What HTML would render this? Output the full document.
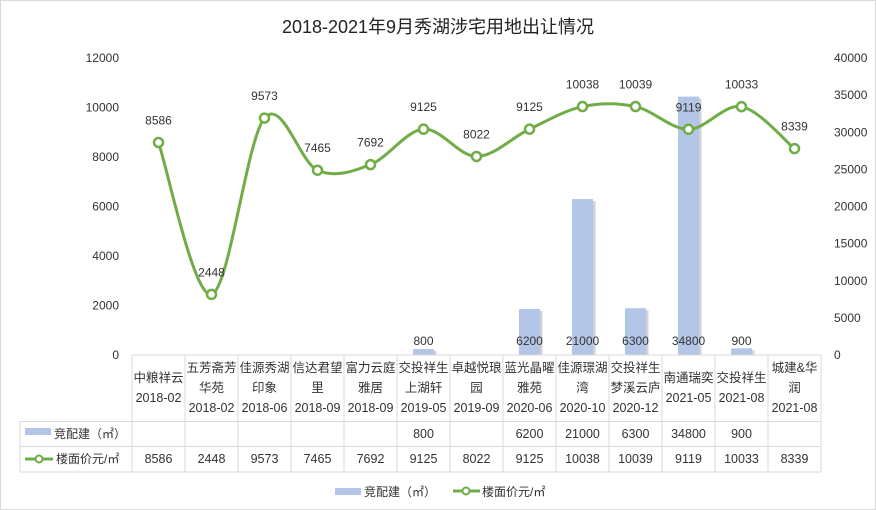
<!DOCTYPE html>
<html><head><meta charset="utf-8"><style>
body{margin:0;background:#fff}
svg{display:block;font-family:"Liberation Sans","Noto Sans CJK SC",sans-serif}
</style></head><body>
<svg id="s" width="876" height="510" viewBox="0 0 876 510" xmlns="http://www.w3.org/2000/svg">
<rect x="0.5" y="0.5" width="875" height="509" fill="#fff" stroke="#d9d9d9"/>
<text x="438" y="33" text-anchor="middle" font-size="18" fill="#222">2018-2021年9月秀湖涉宅用地出让情况</text>
</svg>
<script>
const s=document.getElementById('s');const NS='http://www.w3.org/2000/svg';
function el(t,a,txt){const e=document.createElementNS(NS,t);for(const k in a)e.setAttribute(k,a[k]);if(txt!=null)e.textContent=txt;s.appendChild(e);return e;}
const L=132,W=53,Y0=355,H=297;
const names=[["中粮祥云","2018-02"],["五芳斋芳","华苑","2018-02"],["佳源秀湖","印象","2018-06"],["信达君望","里","2018-09"],["富力云庭","雅居","2018-09"],["交投祥生","上湖轩","2019-05"],["卓越悦琅","园","2019-09"],["蓝光晶曜","雅苑","2020-06"],["佳源璟湖","湾","2020-10"],["交投祥生","梦溪云庐","2020-12"],["南通瑞奕","2021-05"],["交投祥生","2021-08"],["城建&华","润","2021-08"]];
const price=[8586,2448,9573,7465,7692,9125,8022,9125,10038,10039,9119,10033,8339];
const area=[null,null,null,null,null,800,null,6200,21000,6300,34800,900,null];
// axes labels
for(let v=0;v<=12000;v+=2000){el('text',{x:119,y:Y0-v*H/12000+4,'text-anchor':'end','font-size':12,fill:'#333'},v);}
for(let v=0;v<=40000;v+=5000){el('text',{x:834,y:Y0-v*H/40000+4,'font-size':12,fill:'#333'},v);}
// bars
area.forEach((a,i)=>{if(a==null)return;const cx=L+W*i+26.5;const h=a*H/40000;
el('rect',{x:cx-8,y:Y0-h+2,width:21,height:h-2,fill:'#cfd3d9'});
el('rect',{x:cx-10.5,y:Y0-h,width:21,height:h,fill:'#b4c6e7'});
el('text',{x:cx,y:345,'text-anchor':'middle','font-size':12,fill:'#333'},a);});
// line
const P=price.map((v,i)=>[L+W*i+26.5,Y0-v*H/12000]);
let d='M'+P[0][0]+','+P[0][1];
for(let i=0;i<P.length-1;i++){const p0=P[i-1]||P[i],p1=P[i],p2=P[i+1],p3=P[i+2]||P[i+1];
const c1=[p1[0]+(p2[0]-p0[0])/6,p1[1]+(p2[1]-p0[1])/6],c2=[p2[0]-(p3[0]-p1[0])/6,p2[1]-(p3[1]-p1[1])/6];
d+=` C${c1} ${c2} ${p2}`;}
el('path',{d,fill:'none',stroke:'#70ad47','stroke-width':3});
P.forEach((p,i)=>{el('circle',{cx:p[0],cy:p[1],r:4.5,fill:'#fff',stroke:'#70ad47','stroke-width':2.5});
el('text',{x:p[0],y:p[1]-18,'text-anchor':'middle','font-size':12,fill:'#333'},price[i]);});
// table
const g='#d9d9d9';
el('line',{x1:L,y1:Y0,x2:L+13*W,y2:Y0,stroke:g});
[421.5,446.5,472].forEach(y=>el('line',{x1:20,y1:y,x2:L+13*W,y2:y,stroke:g}));
el('line',{x1:20,y1:421.5,x2:20,y2:472,stroke:g});
for(let i=0;i<=13;i++)el('line',{x1:L+W*i,y1:Y0,x2:L+W*i,y2:472,stroke:g});
names.forEach((n,i)=>{const cx=L+W*i+26.5;const n0=n.length;const start=388-(n0-1)*10;
n.forEach((t,j)=>el('text',{x:cx,y:start+j*20+4,'text-anchor':'middle','font-size':12.5,fill:'#333'},t));
if(area[i]!=null)el('text',{x:cx,y:438,'text-anchor':'middle','font-size':12.5,fill:'#333'},area[i]);
el('text',{x:cx,y:463,'text-anchor':'middle','font-size':12.5,fill:'#333'},price[i]);});
el('rect',{x:25,y:428,width:26,height:7,fill:'#b4c6e7'});
el('text',{x:54,y:438,'font-size':12,fill:'#333'},'竞配建（㎡）');
el('line',{x1:25,y1:459,x2:53,y2:459,stroke:'#70ad47','stroke-width':3});
el('circle',{cx:39,cy:459,r:3.5,fill:'#fff',stroke:'#70ad47','stroke-width':2});
el('text',{x:56,y:463,'font-size':12,fill:'#333'},'楼面价元/㎡');
// legend
el('rect',{x:335,y:488,width:26,height:7,fill:'#b4c6e7'});
el('text',{x:364,y:496,'font-size':12,fill:'#333'},'竞配建（㎡）');
el('line',{x1:453,y1:491,x2:480,y2:491,stroke:'#70ad47','stroke-width':3});
el('circle',{cx:466,cy:491,r:3.5,fill:'#fff',stroke:'#70ad47','stroke-width':2});
el('text',{x:482,y:496,'font-size':12,fill:'#333'},'楼面价元/㎡');
</script>
</body></html>
